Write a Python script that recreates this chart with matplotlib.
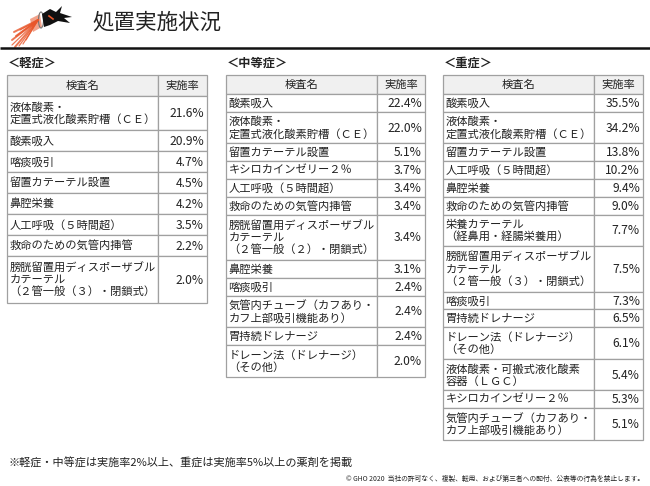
import matplotlib
matplotlib.use("Agg")
import matplotlib.pyplot as plt
from matplotlib.patches import Rectangle, Polygon, Ellipse

plt.rcParams['font.family'] = ['Noto Sans CJK JP', 'DejaVu Sans']

title = "処置実施状況"
header_name = "検査名"
header_rate = "実施率"

mild_label = "＜軽症＞"
mild_names = [
    "液体酸素・\n定置式液化酸素貯槽（ＣＥ）",
    "酸素吸入",
    "喀痰吸引",
    "留置カテーテル設置",
    "鼻腔栄養",
    "人工呼吸（５時間超）",
    "救命のための気管内挿管",
    "膀胱留置用ディスポーザブル\nカテーテル\n（２管一般（３）・閉鎖式）",
]
mild_rates = [21.6, 20.9, 4.7, 4.5, 4.2, 3.5, 2.2, 2.0]

moderate_label = "＜中等症＞"
moderate_names = [
    "酸素吸入",
    "液体酸素・\n定置式液化酸素貯槽（ＣＥ）",
    "留置カテーテル設置",
    "キシロカインゼリー２％",
    "人工呼吸（５時間超）",
    "救命のための気管内挿管",
    "膀胱留置用ディスポーザブル\nカテーテル\n（２管一般（２）・閉鎖式）",
    "鼻腔栄養",
    "喀痰吸引",
    "気管内チューブ（カフあり・\nカフ上部吸引機能あり）",
    "胃持続ドレナージ",
    "ドレーン法（ドレナージ）\n（その他）",
]
moderate_rates = [22.4, 22.0, 5.1, 3.7, 3.4, 3.4, 3.4, 3.1, 2.4, 2.4, 2.4, 2.0]

severe_label = "＜重症＞"
severe_names = [
    "酸素吸入",
    "液体酸素・\n定置式液化酸素貯槽（ＣＥ）",
    "留置カテーテル設置",
    "人工呼吸（５時間超）",
    "鼻腔栄養",
    "救命のための気管内挿管",
    "栄養カテーテル\n（経鼻用・経腸栄養用）",
    "膀胱留置用ディスポーザブル\nカテーテル\n（２管一般（３）・閉鎖式）",
    "喀痰吸引",
    "胃持続ドレナージ",
    "ドレーン法（ドレナージ）\n（その他）",
    "液体酸素・可搬式液化酸素\n容器（ＬＧＣ）",
    "キシロカインゼリー２％",
    "気管内チューブ（カフあり・\nカフ上部吸引機能あり）",
]
severe_rates = [35.5, 34.2, 13.8, 10.2, 9.4, 9.0, 7.7, 7.5, 7.3, 6.5, 6.1, 5.4, 5.3, 5.1]

footnote = "※軽症・中等症は実施率2%以上、重症は実施率5%以上の薬剤を掲載"
copyright_text = "© GHO 2020  当社の許可なく、複製、転用、および第三者への配付、公表等の行為を禁止します。"

W, H = 650, 486
fig = plt.figure(figsize=(W / 100, H / 100), dpi=100)
ax = fig.add_axes([0, 0, 1, 1])
ax.set_xlim(0, W)
ax.set_ylim(H, 0)
ax.axis('off')

TXT = '#222222'
EDGE = '#a0a0a0'
HEAD_BG = '#f0f0f0'
FS = 8.1

# --- logo (decorative) ---
for i, (ex, ey) in enumerate([(12, 45), (15, 47), (19, 46), (12, 40), (23, 44), (16, 36),
                              (26, 40), (14, 32), (20, 30)]):
    ax.plot([38, ex], [20, ey], color='#e8562a', lw=1.4 if i % 2 else 0.9, alpha=0.8,
            solid_capstyle='round')
ax.add_patch(Polygon([[30, 19], [40, 14], [42, 27], [33, 32]], closed=True, color='#e8562a',
                     alpha=0.55, lw=0))
ax.add_patch(Ellipse((41, 20), 5, 16, fill=False, ec='#777777', lw=0.8))
ax.add_patch(Polygon([[42, 14], [50, 9], [56, 12], [62, 6], [60, 13], [72, 17], [64, 18],
                      [70, 23], [58, 21], [50, 25], [44, 27]], closed=True, color='#111111', lw=0))
ax.plot([49, 53], [16, 19], color='#e8562a', lw=1.2)

# --- title and rule ---
ax.text(92, 23, title, fontsize=15.5, color=TXT, va='center', ha='left')
ax.plot([0, W], [48.5, 48.5], color='#111111', lw=1.8, solid_capstyle='butt')


def draw_table(label, names, rates, x0, xdiv, x1, y0, head_h, pad, pitch):
    ax.text(x0 + 1, 63, label, fontsize=8.8, fontweight='bold', color=TXT, va='center', ha='left')
    ax.add_patch(Rectangle((x0, y0), xdiv - x0, head_h, fc=HEAD_BG, ec=EDGE, lw=0.9))
    ax.add_patch(Rectangle((xdiv, y0), x1 - xdiv, head_h, fc=HEAD_BG, ec=EDGE, lw=0.9))
    ax.text((x0 + xdiv) / 2, y0 + head_h / 2, header_name, fontsize=FS, color=TXT, ha='center', va='center')
    ax.text((xdiv + x1) / 2, y0 + head_h / 2, header_rate, fontsize=FS, color=TXT, ha='center', va='center')
    y = y0 + head_h
    for name, rate in zip(names, rates):
        n = name.count('\n') + 1
        h = pad + pitch * n
        ax.add_patch(Rectangle((x0, y), xdiv - x0, h, fc='white', ec=EDGE, lw=0.9))
        ax.add_patch(Rectangle((xdiv, y), x1 - xdiv, h, fc='white', ec=EDGE, lw=0.9))
        ax.text(x0 + 2.5, y + h / 2 + 0.5, name, fontsize=FS, color=TXT, ha='left', va='center',
                linespacing=1.15)
        ax.text(x1 - 3, y + h / 2 + 0.5, f"{rate:.1f}%", fontsize=FS + 0.6, color=TXT,
                ha='right', va='center')
        y += h


draw_table(mild_label, mild_names, mild_rates, 7, 158, 207, 75, 21, 8, 13)
draw_table(moderate_label, moderate_names, moderate_rates, 226, 377, 425, 75, 19, 4, 13.8)
draw_table(severe_label, severe_names, severe_rates, 443, 594, 643, 75, 19, 4, 13.8)

ax.text(8, 463, footnote, fontsize=8.0, color=TXT, ha='left', va='center')
ax.text(644, 479, copyright_text, fontsize=4.9, color=TXT, ha='right', va='center')

fig.savefig('out.png', dpi=100, facecolor='white')
